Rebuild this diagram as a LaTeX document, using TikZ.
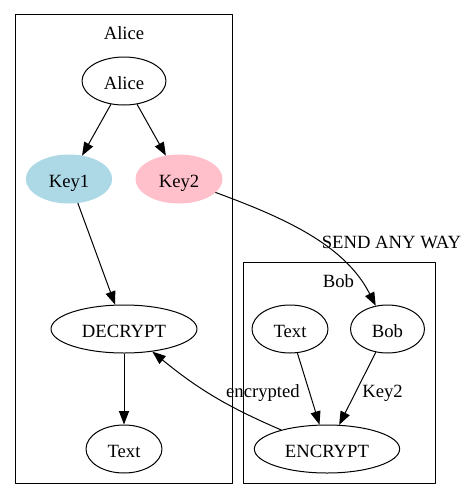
\documentclass[tikz,border=0pt]{standalone}
\usepackage{fontspec}
\setmainfont{Liberation Serif}
\usetikzlibrary{shapes.geometric,arrows.meta}
\definecolor{keyblue}{RGB}{173,216,230}
\definecolor{keypink}{RGB}{255,192,203}
\begin{document}
\begin{tikzpicture}[x=0.75pt,y=-0.75pt,line join=round,line width=0.75pt,>={Triangle[length=10pt,width=7.5pt]},
	font=\fontsize{14}{16}\selectfont,
	txt/.style={inner sep=0pt,text height=12.3pt,text depth=0pt},
	el/.style={txt,ellipse,draw,minimum height=36pt}]
	\useasboundingbox (0,0) rectangle (467,501);
	% Khung Alice và khung Bob
	\draw (15,14) rectangle (232,483);
	\draw (243,262) rectangle (435,483);
	\node[txt] (tAlice) at (124,31.5) {Alice};
	\node[txt] (tBob) at (338.5,279) {Bob};
	% Các nút
	\node[el,minimum width=63pt] (alice) at (124,81) {Alice};
	\node[el,draw=keyblue,fill=keyblue,minimum width=64pt] (key1) at (69,179) {Key1};
	\node[el,draw=keypink,fill=keypink,minimum width=64.5pt] (key2) at (179,179) {Key2};
	\node[el,minimum width=109.5pt] (decrypt) at (124,329) {DECRYPT};
	\node[el,minimum width=57pt] (textA) at (124,449) {Text};
	\node[el,minimum width=57pt] (textB) at (290,329) {Text};
	\node[el,minimum width=55.5pt] (bob) at (387.5,329) {Bob};
	\node[el,minimum width=109pt] (encrypt) at (327,449) {ENCRYPT};
	% Các cạnh
	\draw[->] (alice) -- (key1);
	\draw[->] (alice) -- (key2);
	\draw[->] (key1) -- (decrypt);
	\draw[->] (decrypt) -- (textA);
	\draw[->] (key2) .. controls (285,218) and (345,245) .. (bob);
	\draw[->] (textB) -- (encrypt);
	\draw[->] (bob) -- (encrypt);
	\draw[->] (encrypt) to[bend left=8] (decrypt);
	% Nhãn cạnh
	\node[txt] (lSend) at (391.5,240) {SEND ANY WAY};
	\node[txt] (lEnc) at (263,389) {encrypted};
	\node[txt] (lKey) at (382.5,389) {Key2};
\end{tikzpicture}
\end{document}
